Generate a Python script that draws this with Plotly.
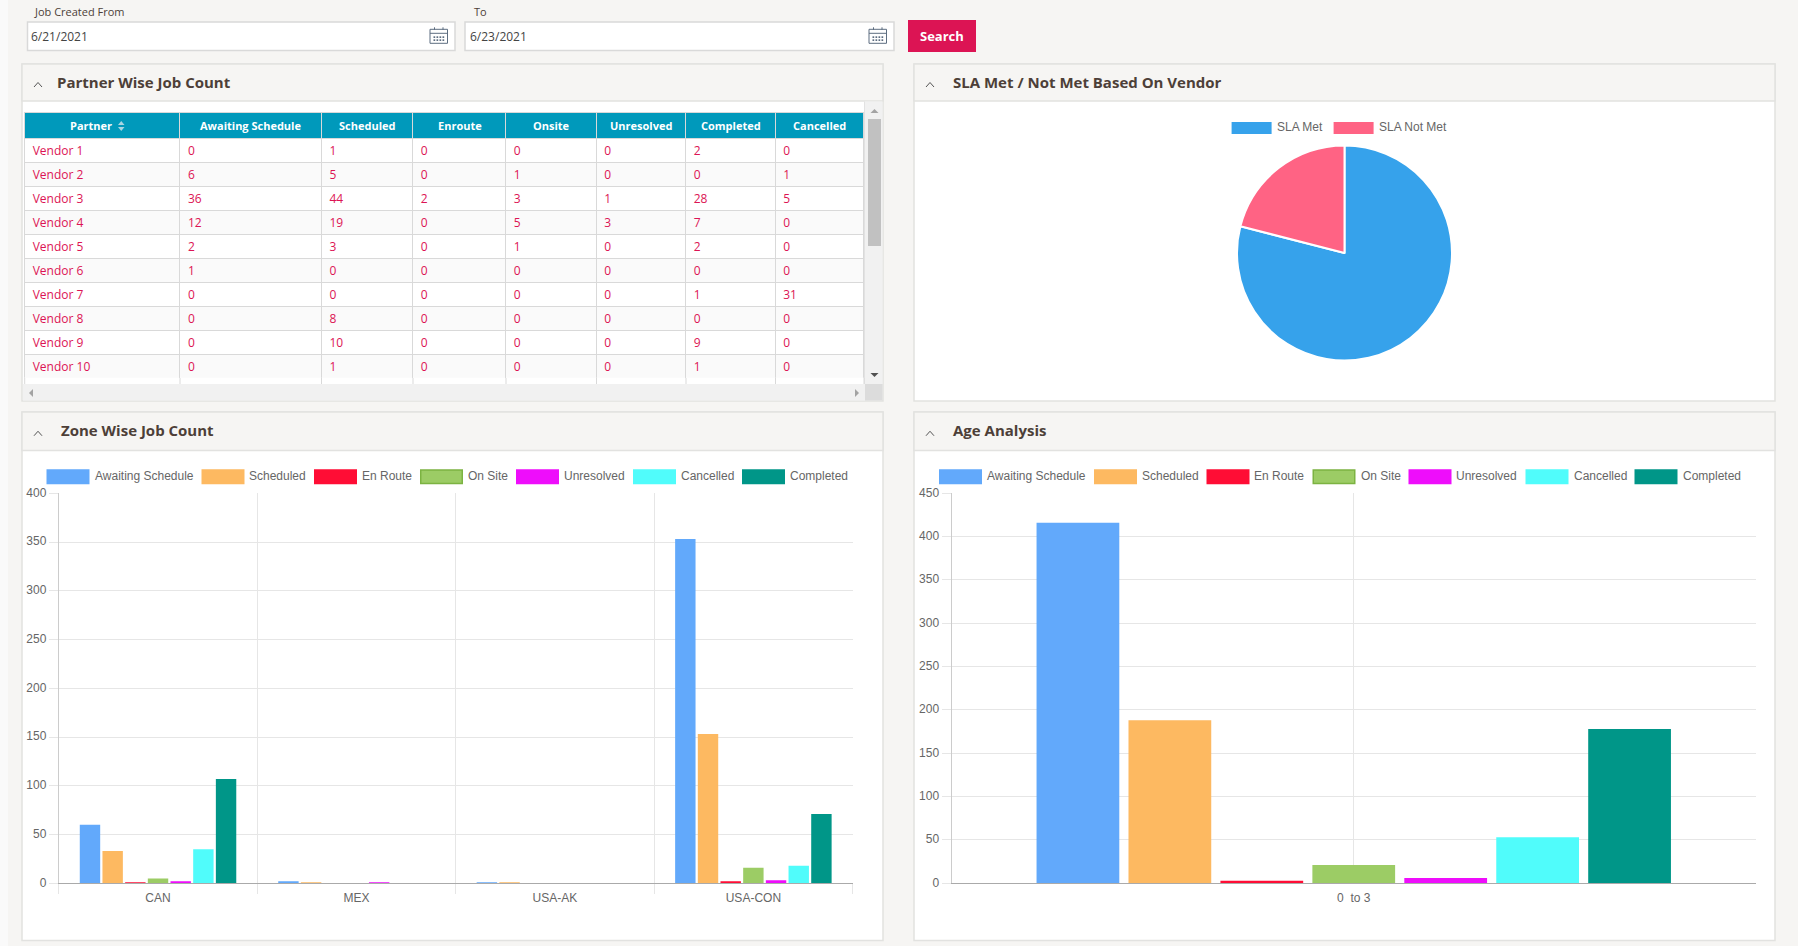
import plotly.graph_objects as go

W, H = 1798, 946

# table data
partners = ['Vendor 1', 'Vendor 2', 'Vendor 3', 'Vendor 4', 'Vendor 5',
            'Vendor 6', 'Vendor 7', 'Vendor 8', 'Vendor 9', 'Vendor 10']
t_awaiting = [0, 6, 36, 12, 2, 1, 0, 0, 0, 0]
t_scheduled = [1, 5, 44, 19, 3, 0, 0, 8, 10, 1]
t_enroute = [0, 0, 2, 0, 0, 0, 0, 0, 0, 0]
t_onsite = [0, 1, 3, 5, 1, 0, 0, 0, 0, 0]
t_unresolved = [0, 0, 1, 3, 0, 0, 0, 0, 0, 0]
t_completed = [2, 0, 28, 7, 2, 0, 1, 0, 9, 1]
t_cancelled = [0, 1, 5, 0, 0, 0, 31, 0, 0, 0]
table_headers = ['Partner', 'Awaiting Schedule', 'Scheduled', 'Enroute', 'Onsite',
                 'Unresolved', 'Completed', 'Cancelled']

# pie
sla_labels = ['SLA Met', 'SLA Not Met']
sla_values = [79, 21]
sla_colors = ['#36a2eb', '#ff6384']

# bars
series_names = ['Awaiting Schedule', 'Scheduled', 'En Route', 'On Site', 'Unresolved', 'Cancelled', 'Completed']
series_colors = ['#62a9fb', '#fdb961', '#ff0d35', '#9ccc65', '#ee0dfb', '#50fcfb', '#009688']
zones = ['CAN', 'MEX', 'USA-AK', 'USA-CON']
z_awaiting = [60, 2, 1, 353]
z_scheduled = [33, 1, 1, 153]
z_enroute = [1, 0, 0, 2]
z_onsite = [5, 0, 0, 16]
z_unresolved = [2, 1, 0, 3]
z_cancelled = [35, 0, 0, 18]
z_completed = [107, 0, 0, 71]
zone_series = [z_awaiting, z_scheduled, z_enroute, z_onsite, z_unresolved, z_cancelled, z_completed]
age_groups = ['0\u00a0 to 3']
age_values = [416, 188, 3, 21, 6, 53, 178]

PAGE = '#f6f5f3'
BORDER = '#e2e2e0'
GRID = '#e6e6e6'
TEXT = '#666666'
TITLE = '#4d3f38'
PINK = '#dc1454'
OS = 'Open Sans'
AR = 'Liberation Sans'


def fx(x):
    return x / W


def fy(y):
    return 1 - y / H


shapes = []
notes = []


def rect(x0, y0, x1, y1, fill, line=None, width=1, layer='below'):
    shapes.append(dict(type='rect', xref='paper', yref='paper', layer=layer,
                       x0=fx(x0), x1=fx(x1), y0=fy(y0), y1=fy(y1), fillcolor=fill,
                       line=dict(color=line or fill, width=width if line else 0)))


def seg(x0, y0, x1, y1, color, width=1, layer='below'):
    shapes.append(dict(type='line', xref='paper', yref='paper', layer=layer,
                       x0=fx(x0), x1=fx(x1), y0=fy(y0), y1=fy(y1), line=dict(color=color, width=width)))


def poly(pts, fill, layer='above'):
    path = 'M' + 'L'.join(f'{fx(a):.5f},{fy(b):.5f}' for a, b in pts) + 'Z'
    shapes.append(dict(type='path', xref='paper', yref='paper', layer=layer, path=path,
                       fillcolor=fill, line=dict(width=0)))


def text(x, y, s, size=12, color=TEXT, family=AR, anchor='left', weight=None):
    # annotations carry about 2px of padding
    dx = -2 if anchor == 'left' else 0
    notes.append(dict(x=fx(x + dx), y=fy(y), xref='paper', yref='paper', text=s, showarrow=False,
                      xanchor=anchor, yanchor='middle', align=anchor,
                      font=dict(size=size, color=color, family=family, weight=weight)))


def panel(x0, y0, y_head, x1, y1, title, title_x):
    rect(x0, y0, x1, y1, 'white', BORDER, 1.5)
    rect(x0, y0, x1, y_head, PAGE, BORDER, 1.5)
    text(title_x, (y0 + y_head) / 2 - 1, title, size=15, color=TITLE, family=OS, weight=700)
    cx, cy = x0 + 16, (y0 + y_head) / 2 + 2
    seg(cx - 4, cy + 2.5, cx, cy - 2, '#555555', 1, 'above')
    seg(cx, cy - 2, cx + 4, cy + 2.5, '#555555', 1, 'above')


def calendar(x, y):
    col = '#5d6d80'
    rect(x, y + 2, x + 17.5, y + 16, 'white', col, 1)
    seg(x, y + 6, x + 17.5, y + 6, col, 1)
    for tx in (x + 4.5, x + 13):
        seg(tx, y, tx, y + 2.5, col, 1)
    for r in (y + 9, y + 12):
        for k in range(4):
            rect(x + 3.5 + k * 3, r, x + 5.2 + k * 3, r + 1.7, col)


def legend(offset, names, colors, box_x, text_x, y0, y1, ytext, box_w=43):
    for name, col, a, b in zip(names, colors, box_x, text_x):
        if name == 'On Site':
            rect(a + offset + 0.75, y0 + 0.75, a + offset + box_w - 0.75, y1 - 0.75, col, '#7cb342', 1.5)
        else:
            rect(a + offset, y0, a + offset + box_w, y1, col)
        text(b + offset, ytext, name)


# page furniture
rect(0, 0, W, H, PAGE)
rect(0, 0, 8, H, '#fafafa')
rect(27.5, 22, 455, 50.5, 'white', '#d9d9d9', 1.5)
rect(465, 22, 894, 50.5, 'white', '#d9d9d9', 1.5)
text(34, 11, 'Job Created From', size=11, color=TITLE, family=OS)
text(473.6, 11, 'To', size=11, color=TITLE, family=OS)
text(31, 36.5, '6/21/2021', size=12, color='#444444', family=OS)
text(469.5, 36.5, '6/23/2021', size=12, color='#444444', family=OS)
calendar(430, 27.3)
calendar(869, 27.3)
rect(908, 20, 976, 52, PINK)
text(942, 36, 'Search', size=13, color='white', family=OS, anchor='center', weight=700)

panel(22, 64, 101, 883, 401, 'Partner Wise Job Count', 57.4)
panel(914, 64, 101, 1775, 401, 'SLA Met / Not Met Based On Vendor', 952.7)
panel(22, 412, 450.5, 883, 940.5, 'Zone Wise Job Count', 61)
panel(914, 412, 450.5, 1775, 940.5, 'Age Analysis', 952.7)

# table scroll furniture
rect(865, 101.5, 882.5, 384, '#f1f1f1')
seg(864.5, 101.5, 864.5, 384, '#e2e2e2', 1)
rect(868, 119, 881, 246, '#c1c1c1')
rect(23, 384, 865, 400.5, '#f1f1f1')
rect(865, 384, 882.5, 400.5, '#dcdcdc')
poly([(870.5, 113), (874.5, 109), (878.5, 113)], '#a3a3a3')
poly([(870.5, 373), (878.5, 373), (874.5, 377)], '#505050')
poly([(33, 389), (33, 397), (29, 393)], '#a3a3a3')
poly([(855, 389), (855, 397), (859, 393)], '#a3a3a3')
col_edges = [24.7, 180, 321.5, 413, 506, 596.5, 686, 775.5, 864]
for e in col_edges:
    seg(e, 378, e, 384, '#d9d9d9', 1)

# header band sits under a see-through table header, plotly's cell padding is too big for its height
rect(24.7, 112.7, 864, 138, '#0099bb')
poly([(118, 125), (124.5, 125), (121.25, 121)], '#a8d5e2')
poly([(118, 127), (124.5, 127), (121.25, 131)], '#a8d5e2')
header_x = [(a + b) / 2 for a, b in zip(col_edges, col_edges[1:])]
header_x[0] = 90.6
for h, hx in zip(table_headers, header_x):
    text(hx, 125.3, h, size=11, color='white', family=OS, anchor='center', weight=700)

fig = go.Figure()

table_cols = [partners, t_awaiting, t_scheduled, t_enroute, t_onsite, t_unresolved, t_completed, t_cancelled]
row_fill = ['white' if i % 2 == 0 else '#fafafa' for i in range(len(partners))]
fig.add_trace(go.Table(
    domain=dict(x=[fx(24.7), fx(864)], y=[fy(378), fy(112.7)]),
    columnwidth=[b - a for a, b in zip(col_edges, col_edges[1:])],
    header=dict(values=['' for h in table_headers], height=25.3,
                fill_color='rgba(0,0,0,0)', line_color='#d9d9d9',
                font=dict(family=OS, size=1, color='white')),
    cells=dict(values=table_cols, height=24, align='left',
               fill_color=[row_fill], line_color='#d9d9d9',
               font=dict(family=OS, size=12, color=PINK)),
))

# pie
fig.add_trace(go.Pie(labels=sla_labels, values=sla_values, sort=False, direction='clockwise', rotation=0,
                     marker=dict(colors=sla_colors, line=dict(color='white', width=2)),
                     textinfo='none', showlegend=False,
                     domain=dict(x=[fx(1237), fx(1452)], y=[fy(360.5), fy(145.5)])))
legend(0, sla_labels, sla_colors, [1231.6, 1333.6], [1277.4, 1379.4], 122, 134, 126.7, box_w=40)

# zone chart
for name, col, vals in zip(series_names, series_colors, zone_series):
    fig.add_trace(go.Bar(x=zones, y=vals, name=name, marker=dict(color=col, line=dict(width=0)),
                         showlegend=False, xaxis='x', yaxis='y'))
# age chart
for name, col, val in zip(series_names, series_colors, age_values):
    fig.add_trace(go.Bar(x=age_groups, y=[val], name=name, marker=dict(color=col, line=dict(width=0)),
                         showlegend=False, xaxis='x2', yaxis='y2'))

box_x = [46.5, 201.5, 314, 420, 516, 633, 742]
text_x = [94.7, 249, 361.6, 468, 563.7, 681, 790]
legend(0, series_names, series_colors, box_x, text_x, 469.3, 484.3, 475.7)
legend(892.5, series_names, series_colors, box_x, text_x, 469.3, 484.3, 475.7)

tick_font = dict(family=AR, size=12, color=TEXT)
y_common = dict(showgrid=True, gridcolor=GRID, gridwidth=1, ticks='outside', ticklen=9, tickcolor=GRID,
                tickfont=tick_font, showline=True, linecolor='#cccccc', linewidth=1, zeroline=False,
                ticklabelshift=-1, domain=[fy(883.3), fy(493.3)])

fig.update_layout(
    width=W, height=H, autosize=False,
    margin=dict(l=0, r=0, t=0, b=0, pad=0, autoexpand=False),
    paper_bgcolor=PAGE, plot_bgcolor='rgba(0,0,0,0)',
    showlegend=False, barmode='group', bargap=0.2, bargroupgap=0.1,
    font=dict(family=AR, size=12, color=TEXT),
    shapes=shapes, annotations=notes,
    xaxis=dict(domain=[fx(58.8), fx(852.6)], type='category', categoryorder='array', categoryarray=zones,
               range=[-0.5, 3.5], tickson='boundaries', showgrid=True, gridcolor=GRID,
               ticks='outside', ticklen=10, tickcolor=GRID, tickfont=tick_font, ticklabelstandoff=3,
               showline=True, linecolor='#aaaaaa', linewidth=1, zeroline=False),
    yaxis=dict(range=[0, 400], dtick=50, **y_common),
    xaxis2=dict(domain=[fx(951.5), fx(1756)], type='category', range=[-0.5, 0.5], anchor='y2',
                showgrid=True, gridcolor=GRID, ticks='', tickfont=tick_font, ticklabelstandoff=3,
                showline=True, linecolor='#aaaaaa', linewidth=1, zeroline=False),
    yaxis2=dict(range=[0, 450], dtick=50, anchor='x2', **y_common),
)

fig.write_html("out.html", config=dict(displayModeBar=False),
               post_script="document.body.style.margin='0';document.body.style.overflow='hidden';")
